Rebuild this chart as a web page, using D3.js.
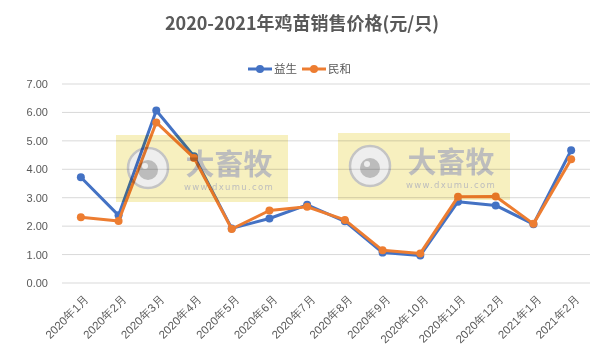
<!DOCTYPE html>
<html>
<head>
<meta charset="utf-8">
<script src="https://cdn.jsdelivr.net/npm/d3@7"></script>
<style>
  body { margin: 0; background: #fff; }
  svg { font-family: "Noto Sans CJK SC", "DejaVu Sans", sans-serif; }
</style>
</head>
<body>
<svg id="chart" width="607" height="356"></svg>
<script>
// categories and series
const months = ["2020年1月", "2020年2月", "2020年3月", "2020年4月", "2020年5月", "2020年6月", "2020年7月",
    "2020年8月", "2020年9月", "2020年10月", "2020年11月", "2020年12月", "2021年1月", "2021年2月"];
const yisheng = [3.72, 2.38, 6.07, 4.46, 1.92, 2.27, 2.75, 2.17, 1.07, 0.97, 2.86, 2.73, 2.07, 4.67];
const minhe = [2.31, 2.18, 5.65, 4.40, 1.90, 2.55, 2.68, 2.22, 1.15, 1.04, 3.03, 3.04, 2.08, 4.35];
const yTicks = [0, 1, 2, 3, 4, 5, 6, 7];

const series = [
    { name: "益生", values: yisheng, color: "#4472C4" },
    { name: "民和", values: minhe, color: "#ED7D31" }
];

const svg = d3.select("#chart");
const margin = { top: 84, right: 17, bottom: 73, left: 62 };
const width = 607 - margin.left - margin.right;
const height = 356 - margin.top - margin.bottom;

// Title
svg.append("text")
    .attr("x", 302)
    .attr("y", 30)
    .attr("text-anchor", "middle")
    .style("font-size", "18px")
    .style("font-weight", "bold")
    .attr("fill", "#595959")
    .text("2020-2021年鸡苗销售价格(元/只)");

const g = svg.append("g")
    .attr("transform", `translate(${margin.left},${margin.top})`);

const x = d3.scaleBand().domain(months).range([0, width]);
const y = d3.scaleLinear().domain([0, 7]).range([height, 0]);

// Gridlines
g.selectAll("line.grid")
    .data(yTicks)
    .enter()
    .append("line")
    .attr("class", "grid")
    .attr("x1", 0)
    .attr("x2", width)
    .attr("y1", d => y(d))
    .attr("y2", d => y(d))
    .attr("stroke", "#d9d9d9")
    .attr("stroke-width", 1);

// Y axis labels
const yAxis = g.append("g")
    .call(d3.axisLeft(y).tickValues(yTicks).tickFormat(d3.format(".2f")).tickSize(0).tickPadding(14));
yAxis.select(".domain").remove();
yAxis.selectAll("text")
    .attr("fill", "#595959")
    .style("font-size", "11px")
    .style("font-family", "'Liberation Sans', 'DejaVu Sans', sans-serif");

// X axis labels, rotated
const xAxis = g.append("g")
    .attr("transform", `translate(0,${height})`)
    .call(d3.axisBottom(x).tickSize(0));
xAxis.select(".domain").remove();
xAxis.selectAll("text")
    .attr("fill", "#595959")
    .style("font-size", "11.5px")
    .attr("text-anchor", "end")
    .attr("dy", "0.35em")
    .attr("transform", "translate(4,12) rotate(-45)");

// Lines and markers
const line = d3.line()
    .x((d, i) => x(months[i]) + x.bandwidth() / 2)
    .y(d => y(d));

series.forEach(s => {
    g.append("path")
        .datum(s.values)
        .attr("d", line)
        .attr("fill", "none")
        .attr("stroke", s.color)
        .attr("stroke-width", 3)
        .attr("stroke-linejoin", "round");
    g.selectAll(null)
        .data(s.values)
        .enter()
        .append("circle")
        .attr("cx", (d, i) => x(months[i]) + x.bandwidth() / 2)
        .attr("cy", d => y(d))
        .attr("r", 4)
        .attr("fill", s.color);
});

// Watermarks (yellow boxes laid over the plot)
function watermark(cx, cy) {
    const w = svg.append("g")
        .attr("transform", `translate(${cx},${cy})`)
        .style("mix-blend-mode", "multiply");
    w.append("rect")
        .attr("x", -86).attr("y", -34).attr("width", 172).attr("height", 67)
        .attr("fill", "#f7f0bf");
    w.append("circle").attr("cx", -54).attr("cy", -1).attr("r", 20)
        .attr("fill", "#eeeeee").attr("stroke", "#c4c4c4").attr("stroke-width", 2.5);
    w.append("circle").attr("cx", -54).attr("cy", 1).attr("r", 10).attr("fill", "#bcbcbc");
    w.append("circle").attr("cx", -57).attr("cy", -3).attr("r", 3).attr("fill", "#eeeeee");
    w.append("text").attr("x", 27).attr("y", 6).attr("text-anchor", "middle")
        .style("font-size", "29px").style("font-weight", "bold").attr("fill", "#bdbdbd")
        .text("大畜牧");
    w.append("text").attr("x", 27).attr("y", 21).attr("text-anchor", "middle")
        .style("font-size", "8.5px").style("letter-spacing", "1.3px").attr("fill", "#bdbdbd")
        .style("font-family", "'DejaVu Sans', sans-serif")
        .text("www.dxumu.com");
}
watermark(202, 169);
watermark(424, 167);

// Legend
const legend = svg.append("g").attr("transform", "translate(248,69)");
series.forEach((s, i) => {
    const lg = legend.append("g").attr("transform", `translate(${i * 54},0)`);
    lg.append("line").attr("x1", 0).attr("x2", 24).attr("y1", 0).attr("y2", 0)
        .attr("stroke", s.color).attr("stroke-width", 3);
    lg.append("circle").attr("cx", 12).attr("cy", 0).attr("r", 4).attr("fill", s.color);
    lg.append("text").attr("x", 26).attr("y", 4)
        .style("font-size", "11.5px").attr("fill", "#595959").text(s.name);
});
</script>
</body>
</html>
